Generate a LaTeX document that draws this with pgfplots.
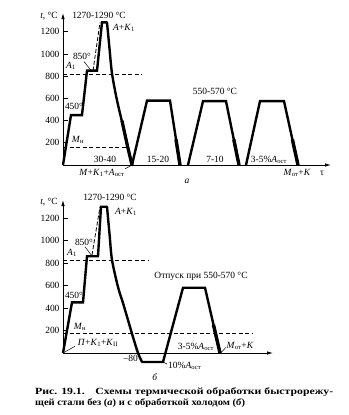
\documentclass[border=0pt]{standalone}
\usepackage{pgfplots}
\pgfplotsset{compat=1.18}
\usetikzlibrary{arrows.meta}
\usepackage{graphicx}
\usepackage{fontspec}
\setmainfont{Liberation Serif}
\newcommand{\fs}{\fontsize{9.5}{11}\selectfont}
\newcommand{\sub}[1]{\textsubscript{#1}}
\newcommand{\lab}[3]{\node[font=\fs,inner sep=0pt] at (#1bp,-#2bp) {#3};}
\newcommand{\labw}[3]{\node[font=\fs,inner sep=0pt,anchor=west] at (#1bp,-#2bp) {#3};}
\begin{document}
\begin{tikzpicture}
\useasboundingbox (0,0) rectangle (349bp,-415bp);
\pgfplotsset{myax/.style={
  x=1bp, anchor=origin, xmin=0, ymin=0,
  axis lines=left,
  axis line style={line width=0.8bp,-{Latex[length=6bp,width=3.5bp]}},
  xtick=\empty, ytick={200,400,...,1200},
  tick align=inside, major tick length=5bp,
  tick style={black,line width=0.8bp},
  yticklabel style={font=\fs},
  /pgf/number format/1000 sep={},
  /pgf/number format/assume math mode=true,
  clip=false}}
% ---------------- chart a
\begin{axis}[myax, y=0.111bp, at={(63bp,-165bp)}, xmax=268, ymax=1369]
\addplot[black, line width=2.4bp, line join=miter] coordinates {(0,0)(8,450)(19,450)(24,850)(34,850)(39,1285)(44,1285)};
\addplot[black, line width=2.4bp, line cap=round, smooth, tension=0.5] coordinates {(44,1285)(46.5,1050)(49,825)(54,583)(61,314)(69,0)};
\addplot[black, line width=3.2bp, smooth, tension=0.5] coordinates {(59,400)(61,314)(65,150)(69,0)};
\addplot[black, line width=2.4bp] coordinates {(69,0)(84,580)(107,580)(117,0)};
\addplot[black, line width=2.4bp] coordinates {(125,0)(140,575)(163,575)(176,0)};
\addplot[black, line width=2.4bp] coordinates {(183,0)(197,575)(221,575)(235,0)};
\addplot[black, line width=3.4bp] coordinates {(113,230)(117,0)};
\addplot[black, line width=3.4bp] coordinates {(170.8,230)(176,0)};
\addplot[black, line width=3.4bp] coordinates {(229.4,230)(235,0)};
\addplot[black, line width=0.8bp, dash pattern=on 4bp off 2.5bp] coordinates {(0,820)(79,820)};
\addplot[black, line width=0.8bp, dash pattern=on 4bp off 2.5bp] coordinates {(0,160)(65,160)};
\addplot[black, line width=0.8bp, dash pattern=on 4bp off 2bp] coordinates {(30,850)(37,1285)};
\draw[line width=0.5bp] (axis cs:21,932) -- (axis cs:28,852);
\draw[line width=0.5bp] (axis cs:62,-35) -- (axis cs:69,0);
\end{axis}
% ---------------- chart b
\begin{axis}[myax, y=0.1125bp, at={(63bp,-353bp)}, xmax=210, ymax=1360]
\addplot[black, line width=2.4bp, line join=miter] coordinates {(0,0)(9,450)(20,450)(24,860)(35,860)(38,1300)(44,1300)};
\addplot[black, line width=2.4bp, line cap=round, smooth, tension=0.5] coordinates {(44,1300)(46.5,1060)(49,828)(55,587)(60,444)(65,293)(70,142)(75,0)(79,-80)};
\addplot[black, line width=2.4bp, line join=miter] coordinates {(79,-80)(100,-80)(120,580)(142,580)(157,0)};
\addplot[black, line width=3.4bp] coordinates {(150.5,250)(157,0)};
\addplot[black, line width=0.8bp, dash pattern=on 4bp off 2.5bp] coordinates {(0,820)(85,820)};
\addplot[black, line width=0.8bp, dash pattern=on 4bp off 2.5bp] coordinates {(0,170)(190,170)};
\addplot[black, line width=0.8bp, dash pattern=on 4bp off 2bp] coordinates {(29,870)(37,1300)};
\draw[line width=0.5bp] (axis cs:22,945) -- (axis cs:29,862);
\draw[line width=0.5bp] (axis cs:1,5) -- (axis cs:12,60);
\draw[line width=0.5bp] (axis cs:100,-80) -- (axis cs:104,-98);
\draw[line width=0.5bp] (axis cs:158,5) -- (axis cs:163,50);
\end{axis}
% ---------------- labels a
\node[font=\fs,inner sep=0pt,anchor=east] at (58bp,-16bp) {\textit{t}, °C};
\lab{99}{15}{1270-1290 °C}
\lab{124}{28}{\textit{A}+\textit{K}\sub{1}}
\lab{82}{56}{850°}
\lab{71}{66}{\textit{A}\sub{1}}
\lab{74}{106}{450°}
\lab{78}{140}{\textit{M}\sub{н}}
\lab{105}{159}{30-40}
\lab{158}{159}{15-20}
\lab{215}{159}{7-10}
\lab{269}{160}{3-5\%\textit{A}\sub{ост}}
\lab{215}{91}{550-570 °C}
\lab{102}{173}{\textit{M}+\textit{K}\sub{1}+\textit{A}\sub{ост}}
\lab{297}{173}{\textit{M}\sub{от}+\textit{K}}
\lab{322}{173}{τ}
\lab{187}{181}{\textit{а}}
% ---------------- labels b
\node[font=\fs,inner sep=0pt,anchor=east] at (58bp,-202bp) {\textit{t}, °C};
\lab{110}{197}{1270-1290 °C}
\lab{126}{212}{\textit{A}+\textit{K}\sub{1}}
\lab{84}{242}{850°}
\lab{72}{253}{\textit{A}\sub{1}}
\lab{74}{295}{450°}
\lab{80}{327}{\textit{M}\sub{н}}
\lab{98}{343}{\textit{П}+\textit{K}\sub{1}+\textit{K}\sub{II}}
\node[font=\fs,inner sep=0pt,anchor=east] at (138bp,-358bp) {–80};
\labw{168}{366}{10\%\textit{A}\sub{ост}}
\lab{155}{377}{\textit{б}}
\lab{201}{276}{Отпуск при 550-570 °C}
\lab{196}{347}{3-5\%\textit{A}\sub{ост}}
\lab{240}{346}{\textit{M}\sub{от}+\textit{K}}
% ---------------- caption
\node[anchor=west, inner sep=0pt, font=\bfseries\fontsize{9.5}{10}\selectfont] at (35bp,-392bp) {\resizebox{298bp}{\height}{Рис. 19.1.\hspace{0.9em}Схемы термической обработки быстрорежу-}};
\node[anchor=west, inner sep=0pt, font=\bfseries\fontsize{9.5}{10}\selectfont] at (35bp,-403bp) {\resizebox{210bp}{\height}{щей стали без (\textit{а}) и с обработкой холодом (\textit{б})}};
\end{tikzpicture}
\end{document}
